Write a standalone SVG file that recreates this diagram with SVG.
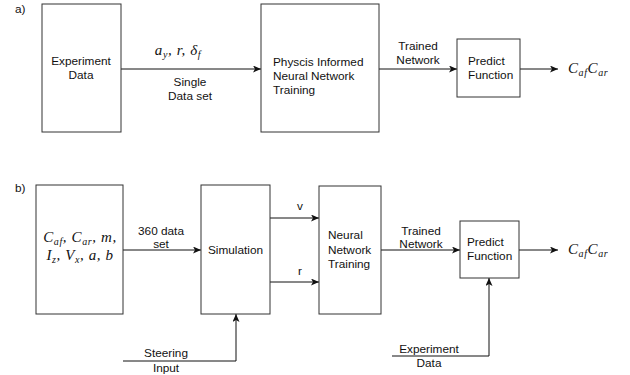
<svg xmlns="http://www.w3.org/2000/svg" width="630" height="375" viewBox="0 0 630 375">
<style>
.box{fill:#fff;stroke:#333;stroke-width:1}
.t{font-family:"Liberation Sans",Arial,sans-serif;font-size:11.8px;fill:#111}
.m{font-family:"Liberation Serif","Times New Roman",serif;font-style:italic;font-size:15px;fill:#111;letter-spacing:0.6px}
.s{font-size:10px}
.c{stroke:#111;stroke-width:1;fill:none}
.mid{text-anchor:middle}
</style>
<defs>
<marker id="ah" markerWidth="9" markerHeight="8" refX="8" refY="3.5" orient="auto" markerUnits="userSpaceOnUse">
<path d="M0,0 L8,3.5 L0,7 L2,3.5 z" fill="#111"/>
</marker>
</defs>
<rect width="630" height="375" fill="#fff"/>
<text class="t" x="15" y="13">a)</text>
<text class="t" x="15" y="192">b)</text>

<g id="connectors">
<path class="c" d="M121,69 H261" marker-end="url(#ah)"/>
<path class="c" d="M379,69 H457" marker-end="url(#ah)"/>
<path class="c" d="M520,69 H558" marker-end="url(#ah)"/>
<path class="c" d="M123,250 H201" marker-end="url(#ah)"/>
<path class="c" d="M270,218 H319" marker-end="url(#ah)"/>
<path class="c" d="M270,282 H319" marker-end="url(#ah)"/>
<path class="c" d="M381,250 H460" marker-end="url(#ah)"/>
<path class="c" d="M519,250 H558" marker-end="url(#ah)"/>
<path class="c" d="M123,361 H236 V314" marker-end="url(#ah)"/>
<path class="c" d="M392,356 H489 V278" marker-end="url(#ah)"/>
</g>

<g id="labels">
<text class="m mid" x="178" y="55">a<tspan class="s" dy="3">y</tspan><tspan dy="-3">, r, δ</tspan><tspan class="s" dy="3">f</tspan></text>
<text class="t mid" x="190" y="86">Single</text>
<text class="t mid" x="190" y="100">Data set</text>
<text class="t mid" x="418" y="50">Trained</text>
<text class="t mid" x="418" y="64">Network</text>
<text class="m" x="568" y="73">C<tspan class="s" dy="3">af</tspan><tspan dy="-3">C</tspan><tspan class="s" dy="3">ar</tspan></text>
<text class="t mid" x="161" y="235">360 data</text>
<text class="t mid" x="161" y="248">set</text>
<text class="t mid" x="300" y="210">v</text>
<text class="t mid" x="300" y="275">r</text>
<text class="t mid" x="421" y="235">Trained</text>
<text class="t mid" x="421" y="248">Network</text>
<text class="m" x="568" y="254">C<tspan class="s" dy="3">af</tspan><tspan dy="-3">C</tspan><tspan class="s" dy="3">ar</tspan></text>
<text class="t mid" x="166" y="357">Steering</text>
<text class="t mid" x="166" y="372">Input</text>
<text class="t mid" x="429" y="353">Experiment</text>
<text class="t mid" x="429" y="367">Data</text>
</g>

<g id="experiment-data-a">
<rect class="box" x="42" y="4" width="79" height="128"/>
<text class="t mid" x="81" y="65">Experiment</text>
<text class="t mid" x="81" y="79">Data</text>
</g>
<g id="pinn-training">
<rect class="box" x="261" y="4" width="118" height="128"/>
<text class="t" x="273" y="66">Physcis Informed</text>
<text class="t" x="273" y="80">Neural Network</text>
<text class="t" x="273" y="94">Training</text>
</g>
<g id="predict-a">
<rect class="box" x="457" y="39" width="63" height="58"/>
<text class="t" x="468" y="65">Predict</text>
<text class="t" x="468" y="79">Function</text>
</g>

<g id="params-b">
<rect class="box" x="36" y="185" width="87" height="129"/>
<text class="m mid" x="80" y="242">C<tspan class="s" dy="3">af</tspan><tspan dy="-3">, C</tspan><tspan class="s" dy="3">ar</tspan><tspan dy="-3">, m,</tspan></text>
<text class="m mid" x="80" y="260">I<tspan class="s" dy="3">z</tspan><tspan dy="-3">, V</tspan><tspan class="s" dy="3">x</tspan><tspan dy="-3">, a, b</tspan></text>
</g>
<g id="simulation">
<rect class="box" x="201" y="185" width="69" height="129"/>
<text class="t mid" x="235.5" y="254">Simulation</text>
</g>
<g id="nn-training">
<rect class="box" x="319" y="186" width="62" height="128"/>
<text class="t" x="328" y="239">Neural</text>
<text class="t" x="328" y="254">Network</text>
<text class="t" x="328" y="268">Training</text>
</g>
<g id="predict-b">
<rect class="box" x="460" y="221" width="59" height="57"/>
<text class="t" x="467" y="246">Predict</text>
<text class="t" x="467" y="260">Function</text>
</g>
</svg>
